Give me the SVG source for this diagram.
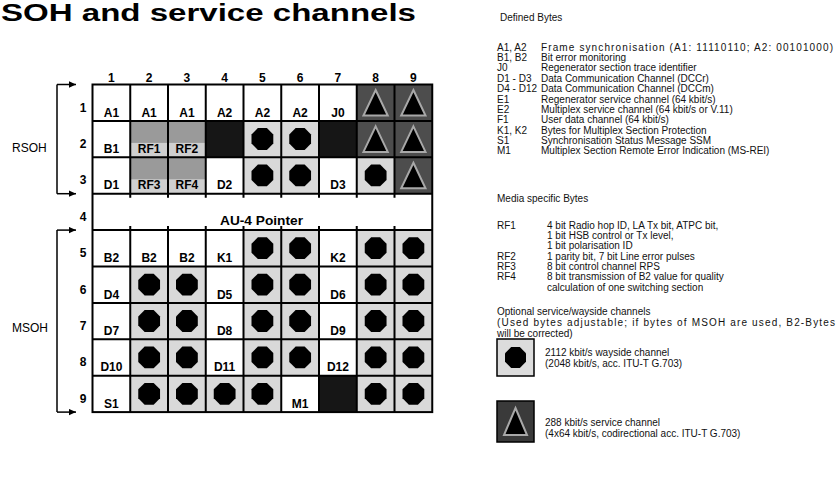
<svg xmlns="http://www.w3.org/2000/svg" xmlns:xlink="http://www.w3.org/1999/xlink" width="838" height="488" viewBox="0 0 838 488">
<style>
.t{font-family:"Liberation Sans",Arial,sans-serif;fill:#000}
.cl{font-size:12px;font-weight:bold;text-anchor:middle}
.num{font-size:12px;font-weight:bold;text-anchor:middle}
.side{font-size:12px}
.lg{font-size:10px;fill:#111}
.w{fill:#fff}
.grid{stroke:#000;stroke-width:2;fill:none}
.br{stroke:#000;stroke-width:1.5;fill:none}
</style>
<defs>
<marker id="ah" viewBox="0 0 10 10" refX="10" refY="5" markerUnits="userSpaceOnUse" markerWidth="8" markerHeight="7" orient="auto"><path d="M0,0.5 L10,5 L0,9.5 z" fill="#000"/></marker>
<g id="circCell"><rect width="37.75" height="36.4" fill="#d9d9d9"/><polygon points="14.4,7.2 23.4,7.2 29.8,13.6 29.8,22.6 23.4,29 14.4,29 8,22.6 8,13.6" fill="#000"/></g>
<g id="triCell"><rect width="37.75" height="36.4" fill="#4d4d4d"/><polygon points="18.9,5.5 31,31 6.7,31" fill="#000" stroke="#a8a8a8" stroke-width="2"/></g>
<g id="blkCell"><rect width="37.75" height="36.4" fill="#161616"/></g>
<g id="rfCell"><rect width="37.75" height="36.4" fill="#9a9a9a"/><rect y="22" width="37.75" height="14.4" fill="#cfcfcf"/></g>
<g id="circIcon"><rect width="37" height="37" fill="#dcdcdc" stroke="#000" stroke-width="1.5"/><polygon points="14.2,7 22.8,7 29,13.2 29,21.8 22.8,28 14.2,28 8,21.8 8,13.2" fill="#000" transform="translate(0,1)"/></g>
<g id="triIcon"><rect width="37" height="41" fill="#3a3a3a" stroke="#000" stroke-width="1.5"/><polygon points="18.5,7 30,34 7,34" fill="#000" stroke="#a8a8a8" stroke-width="2"/></g>
</defs>

<rect width="838" height="488" fill="#fff"/>

<g id="title"><text class="t" x="1" y="21" font-size="23" font-weight="bold" textLength="415" lengthAdjust="spacingAndGlyphs">SOH and service channels</text></g>

<g id="col-numbers" class="t num">
<text x="111.4" y="81.5">1</text><text x="149.1" y="81.5">2</text><text x="186.9" y="81.5">3</text><text x="224.6" y="81.5">4</text><text x="262.4" y="81.5">5</text><text x="300.1" y="81.5">6</text><text x="337.9" y="81.5">7</text><text x="375.6" y="81.5">8</text><text x="413.4" y="81.5">9</text>
</g>
<g id="row-numbers" class="t num">
<text x="83" y="111.5">1</text><text x="83" y="147.9">2</text><text x="83" y="184.3">3</text><text x="83" y="220.7">4</text><text x="83" y="257.1">5</text><text x="83" y="293.5">6</text><text x="83" y="329.9">7</text><text x="83" y="366.3">8</text><text x="83" y="402.7">9</text>
</g>

<g id="rsoh"><text class="t side" x="12" y="152">RSOH</text></g>
<g id="msoh"><text class="t side" x="12" y="332">MSOH</text></g>

<g id="connectors" class="br">
<path d="M57,84.5 V193.7"/>
<path d="M57,84.5 H76" marker-end="url(#ah)"/>
<path d="M57,193.7 H76" marker-end="url(#ah)"/>
<path d="M57,230.1 V412.1"/>
<path d="M57,230.1 H76" marker-end="url(#ah)"/>
<path d="M57,412.1 H76" marker-end="url(#ah)"/>
</g>

<g id="cells">
<g id="r1c1"><rect class="w" x="92.5" y="84.5" width="37.75" height="36.4"/><text class="t cl" x="111.4" y="116.5">A1</text></g>
<g id="r1c2"><rect class="w" x="130.25" y="84.5" width="37.75" height="36.4"/><text class="t cl" x="149.1" y="116.5">A1</text></g>
<g id="r1c3"><rect class="w" x="168" y="84.5" width="37.75" height="36.4"/><text class="t cl" x="186.9" y="116.5">A1</text></g>
<g id="r1c4"><rect class="w" x="205.75" y="84.5" width="37.75" height="36.4"/><text class="t cl" x="224.6" y="116.5">A2</text></g>
<g id="r1c5"><rect class="w" x="243.5" y="84.5" width="37.75" height="36.4"/><text class="t cl" x="262.4" y="116.5">A2</text></g>
<g id="r1c6"><rect class="w" x="281.25" y="84.5" width="37.75" height="36.4"/><text class="t cl" x="300.1" y="116.5">A2</text></g>
<g id="r1c7"><rect class="w" x="319" y="84.5" width="37.75" height="36.4"/><text class="t cl" x="337.9" y="116.5">J0</text></g>
<g id="r1c8"><use xlink:href="#triCell" x="356.75" y="84.5"/></g>
<g id="r1c9"><use xlink:href="#triCell" x="394.5" y="84.5"/></g>
<g id="r2c1"><rect class="w" x="92.5" y="120.9" width="37.75" height="36.4"/><text class="t cl" x="111.4" y="152.9">B1</text></g>
<g id="r2c2"><use xlink:href="#rfCell" x="130.25" y="120.9"/><text class="t cl" x="149.1" y="152.9">RF1</text></g>
<g id="r2c3"><use xlink:href="#rfCell" x="168" y="120.9"/><text class="t cl" x="186.9" y="152.9">RF2</text></g>
<g id="r2c4"><use xlink:href="#blkCell" x="205.75" y="120.9"/></g>
<g id="r2c5"><use xlink:href="#circCell" x="243.5" y="120.9"/></g>
<g id="r2c6"><use xlink:href="#circCell" x="281.25" y="120.9"/></g>
<g id="r2c7"><use xlink:href="#blkCell" x="319" y="120.9"/></g>
<g id="r2c8"><use xlink:href="#triCell" x="356.75" y="120.9"/></g>
<g id="r2c9"><use xlink:href="#triCell" x="394.5" y="120.9"/></g>
<g id="r3c1"><rect class="w" x="92.5" y="157.3" width="37.75" height="36.4"/><text class="t cl" x="111.4" y="189.3">D1</text></g>
<g id="r3c2"><use xlink:href="#rfCell" x="130.25" y="157.3"/><text class="t cl" x="149.1" y="189.3">RF3</text></g>
<g id="r3c3"><use xlink:href="#rfCell" x="168" y="157.3"/><text class="t cl" x="186.9" y="189.3">RF4</text></g>
<g id="r3c4"><rect class="w" x="205.75" y="157.3" width="37.75" height="36.4"/><text class="t cl" x="224.6" y="189.3">D2</text></g>
<g id="r3c5"><use xlink:href="#circCell" x="243.5" y="157.3"/></g>
<g id="r3c6"><use xlink:href="#circCell" x="281.25" y="157.3"/></g>
<g id="r3c7"><rect class="w" x="319" y="157.3" width="37.75" height="36.4"/><text class="t cl" x="337.9" y="189.3">D3</text></g>
<g id="r3c8"><use xlink:href="#circCell" x="356.75" y="157.3"/></g>
<g id="r3c9"><use xlink:href="#triCell" x="394.5" y="157.3"/></g>
<g id="r4"><rect class="w" x="92.5" y="193.7" width="339.75" height="36.4"/><text class="t" x="220" y="225" font-size="13" font-weight="bold" textLength="83" lengthAdjust="spacingAndGlyphs">AU-4 Pointer</text></g>
<g id="r5c1"><rect class="w" x="92.5" y="230.1" width="37.75" height="36.4"/><text class="t cl" x="111.4" y="262.1">B2</text></g>
<g id="r5c2"><rect class="w" x="130.25" y="230.1" width="37.75" height="36.4"/><text class="t cl" x="149.1" y="262.1">B2</text></g>
<g id="r5c3"><rect class="w" x="168" y="230.1" width="37.75" height="36.4"/><text class="t cl" x="186.9" y="262.1">B2</text></g>
<g id="r5c4"><rect class="w" x="205.75" y="230.1" width="37.75" height="36.4"/><text class="t cl" x="224.6" y="262.1">K1</text></g>
<g id="r5c5"><use xlink:href="#circCell" x="243.5" y="230.1"/></g>
<g id="r5c6"><use xlink:href="#circCell" x="281.25" y="230.1"/></g>
<g id="r5c7"><rect class="w" x="319" y="230.1" width="37.75" height="36.4"/><text class="t cl" x="337.9" y="262.1">K2</text></g>
<g id="r5c8"><use xlink:href="#circCell" x="356.75" y="230.1"/></g>
<g id="r5c9"><use xlink:href="#circCell" x="394.5" y="230.1"/></g>
<g id="r6c1"><rect class="w" x="92.5" y="266.5" width="37.75" height="36.4"/><text class="t cl" x="111.4" y="298.5">D4</text></g>
<g id="r6c2"><use xlink:href="#circCell" x="130.25" y="266.5"/></g>
<g id="r6c3"><use xlink:href="#circCell" x="168" y="266.5"/></g>
<g id="r6c4"><rect class="w" x="205.75" y="266.5" width="37.75" height="36.4"/><text class="t cl" x="224.6" y="298.5">D5</text></g>
<g id="r6c5"><use xlink:href="#circCell" x="243.5" y="266.5"/></g>
<g id="r6c6"><use xlink:href="#circCell" x="281.25" y="266.5"/></g>
<g id="r6c7"><rect class="w" x="319" y="266.5" width="37.75" height="36.4"/><text class="t cl" x="337.9" y="298.5">D6</text></g>
<g id="r6c8"><use xlink:href="#circCell" x="356.75" y="266.5"/></g>
<g id="r6c9"><use xlink:href="#circCell" x="394.5" y="266.5"/></g>
<g id="r7c1"><rect class="w" x="92.5" y="302.9" width="37.75" height="36.4"/><text class="t cl" x="111.4" y="334.9">D7</text></g>
<g id="r7c2"><use xlink:href="#circCell" x="130.25" y="302.9"/></g>
<g id="r7c3"><use xlink:href="#circCell" x="168" y="302.9"/></g>
<g id="r7c4"><rect class="w" x="205.75" y="302.9" width="37.75" height="36.4"/><text class="t cl" x="224.6" y="334.9">D8</text></g>
<g id="r7c5"><use xlink:href="#circCell" x="243.5" y="302.9"/></g>
<g id="r7c6"><use xlink:href="#circCell" x="281.25" y="302.9"/></g>
<g id="r7c7"><rect class="w" x="319" y="302.9" width="37.75" height="36.4"/><text class="t cl" x="337.9" y="334.9">D9</text></g>
<g id="r7c8"><use xlink:href="#circCell" x="356.75" y="302.9"/></g>
<g id="r7c9"><use xlink:href="#circCell" x="394.5" y="302.9"/></g>
<g id="r8c1"><rect class="w" x="92.5" y="339.3" width="37.75" height="36.4"/><text class="t cl" x="111.4" y="371.3">D10</text></g>
<g id="r8c2"><use xlink:href="#circCell" x="130.25" y="339.3"/></g>
<g id="r8c3"><use xlink:href="#circCell" x="168" y="339.3"/></g>
<g id="r8c4"><rect class="w" x="205.75" y="339.3" width="37.75" height="36.4"/><text class="t cl" x="224.6" y="371.3">D11</text></g>
<g id="r8c5"><use xlink:href="#circCell" x="243.5" y="339.3"/></g>
<g id="r8c6"><use xlink:href="#circCell" x="281.25" y="339.3"/></g>
<g id="r8c7"><rect class="w" x="319" y="339.3" width="37.75" height="36.4"/><text class="t cl" x="337.9" y="371.3">D12</text></g>
<g id="r8c8"><use xlink:href="#circCell" x="356.75" y="339.3"/></g>
<g id="r8c9"><use xlink:href="#circCell" x="394.5" y="339.3"/></g>
<g id="r9c1"><rect class="w" x="92.5" y="375.7" width="37.75" height="36.4"/><text class="t cl" x="111.4" y="407.7">S1</text></g>
<g id="r9c2"><use xlink:href="#circCell" x="130.25" y="375.7"/></g>
<g id="r9c3"><use xlink:href="#circCell" x="168" y="375.7"/></g>
<g id="r9c4"><use xlink:href="#circCell" x="205.75" y="375.7"/></g>
<g id="r9c5"><use xlink:href="#circCell" x="243.5" y="375.7"/></g>
<g id="r9c6"><rect class="w" x="281.25" y="375.7" width="37.75" height="36.4"/><text class="t cl" x="300.1" y="407.7">M1</text></g>
<g id="r9c7"><use xlink:href="#blkCell" x="319" y="375.7"/></g>
<g id="r9c8"><use xlink:href="#circCell" x="356.75" y="375.7"/></g>
<g id="r9c9"><use xlink:href="#circCell" x="394.5" y="375.7"/></g>
</g>

<g id="gridlines" class="grid">
<rect x="92.5" y="84.5" width="339.75" height="327.6"/>
<path d="M92.5,120.9 H432.25 M92.5,157.3 H432.25 M92.5,193.7 H432.25 M92.5,230.1 H432.25 M92.5,266.5 H432.25 M92.5,302.9 H432.25 M92.5,339.3 H432.25 M92.5,375.7 H432.25"/>
<path d="M130.25,84.5 V197.7 M168,84.5 V197.7 M205.75,84.5 V197.7 M243.5,84.5 V197.7 M281.25,84.5 V197.7 M319,84.5 V197.7 M356.75,84.5 V197.7 M394.5,84.5 V197.7"/>
<path d="M130.25,226.1 V412.1 M168,226.1 V412.1 M205.75,226.1 V412.1 M243.5,226.1 V412.1 M281.25,226.1 V412.1 M319,226.1 V412.1 M356.75,226.1 V412.1 M394.5,226.1 V412.1"/>
</g>

<g id="legend-defined" class="t lg">
<text x="500" y="21">Defined Bytes</text>
<text x="497" y="51">A1, A2</text><text x="541" y="51" textLength="292" lengthAdjust="spacing">Frame synchronisation (A1: 11110110; A2: 00101000)</text>
<text x="497" y="61">B1, B2</text><text x="541" y="61">Bit error monitoring</text>
<text x="497" y="71">J0</text><text x="541" y="71">Regenerator section trace identifier</text>
<text x="497" y="81.5">D1 - D3</text><text x="541" y="81.5">Data Communication Channel (DCCr)</text>
<text x="497" y="92">D4 - D12</text><text x="541" y="92">Data Communication Channel (DCCm)</text>
<text x="497" y="102.5">E1</text><text x="541" y="102.5">Regenerator service channel (64 kbit/s)</text>
<text x="497" y="112.5">E2</text><text x="541" y="112.5">Multiplex service channel (64 kbit/s or V.11)</text>
<text x="497" y="123">F1</text><text x="541" y="123">User data channel (64 kbit/s)</text>
<text x="497" y="133.5">K1, K2</text><text x="541" y="133.5">Bytes for Multiplex Section Protection</text>
<text x="497" y="143.5">S1</text><text x="541" y="143.5">Synchronisation Status Message SSM</text>
<text x="497" y="154">M1</text><text x="541" y="154">Multiplex Section Remote Error Indication (MS-REI)</text>
</g>

<g id="legend-media" class="t lg">
<text x="497" y="201.5">Media specific Bytes</text>
<text x="497" y="228.5">RF1</text><text x="547" y="228.5">4 bit Radio hop ID, LA Tx bit, ATPC bit,</text>
<text x="547" y="238.5">1 bit HSB control or Tx level,</text>
<text x="547" y="248.5">1 bit polarisation ID</text>
<text x="497" y="259.5">RF2</text><text x="547" y="259.5">1 parity bit, 7 bit Line error pulses</text>
<text x="497" y="269.5">RF3</text><text x="547" y="269.5">8 bit control channel RPS</text>
<text x="497" y="279.5">RF4</text><text x="547" y="279.5">8 bit transmission of B2 value for quality</text>
<text x="547" y="290.5">calculation of one switching section</text>
</g>

<g id="legend-optional" class="t lg">
<text x="497" y="314.5">Optional service/wayside channels</text>
<text x="497" y="325.5" textLength="338" lengthAdjust="spacing">(Used bytes adjustable; if bytes of MSOH are used, B2-Bytes</text>
<text x="497" y="336.5">will be corrected)</text>
</g>

<g id="legend-wayside">
<use xlink:href="#circIcon" x="497" y="339"/>
<text class="t lg" x="545" y="355.5">2112 kbit/s wayside channel</text>
<text class="t lg" x="545" y="366.5">(2048 kbit/s, acc. ITU-T G.703)</text>
</g>
<g id="legend-service">
<use xlink:href="#triIcon" x="497" y="401"/>
<text class="t lg" x="545" y="426">288 kbit/s service channel</text>
<text class="t lg" x="545" y="437">(4x64 kbit/s, codirectional acc. ITU-T G.703)</text>
</g>
</svg>
